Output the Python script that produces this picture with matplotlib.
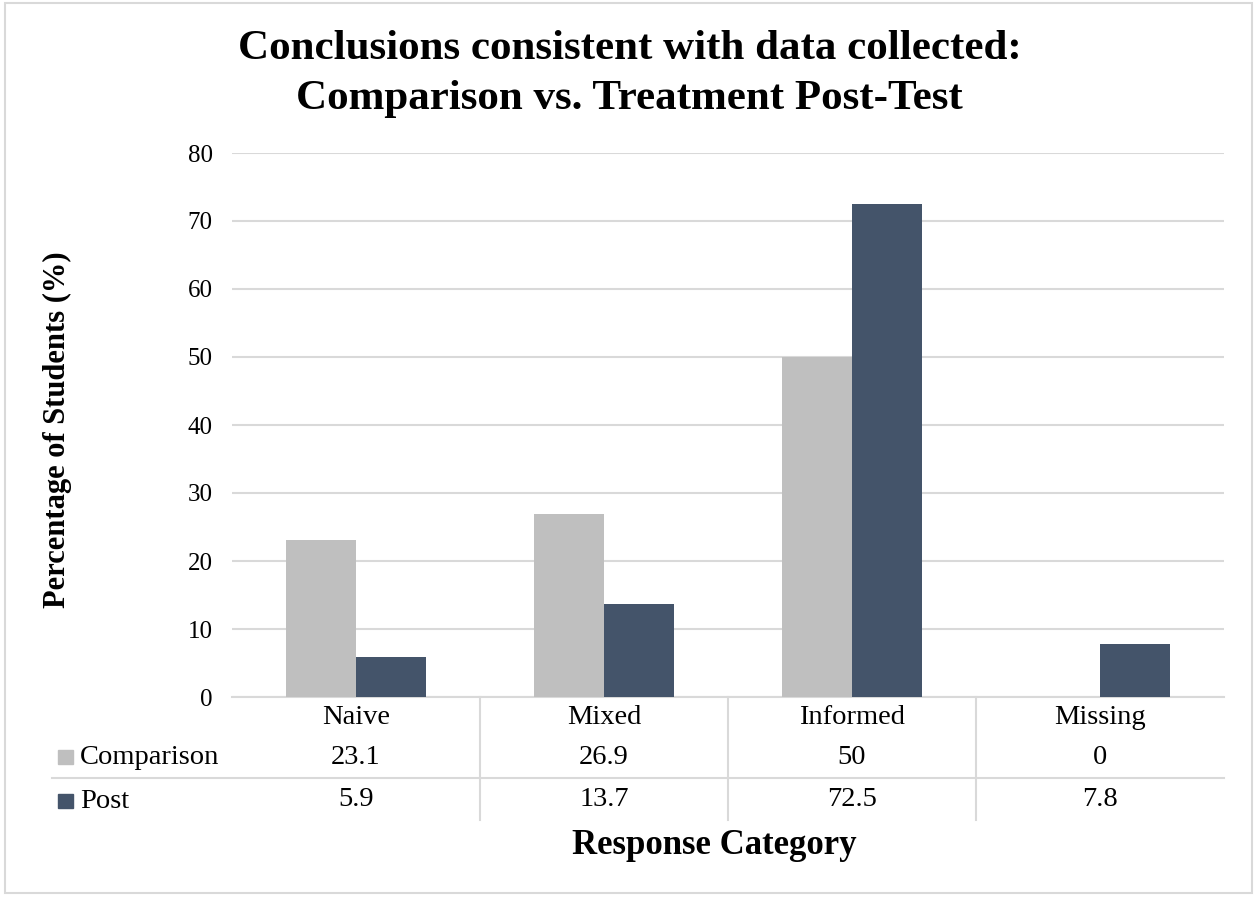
import matplotlib
matplotlib.use("Agg")
import matplotlib.pyplot as plt
from matplotlib.patches import Rectangle
from matplotlib.lines import Line2D
import numpy as np

categories = ["Naive", "Mixed", "Informed", "Missing"]
comparison = [23.1, 26.9, 50, 0]
post = [5.9, 13.7, 72.5, 7.8]
comparison_labels = ["23.1", "26.9", "50", "0"]
post_labels = ["5.9", "13.7", "72.5", "7.8"]
yticks = [0, 10, 20, 30, 40, 50, 60, 70, 80]

W, H = 1259, 898
plt.rcParams['font.family'] = ['Liberation Serif', 'DejaVu Serif']
fig = plt.figure(figsize=(W / 100, H / 100), dpi=100)

def fx(px):
    return px / W

def fy(py):
    return 1 - py / H

c_light = "#BFBFBF"
c_dark = "#44546A"
grid_c = "#D9D9D9"

x0, x1 = 232, 1224
y0, y80 = 697, 153
ax = fig.add_axes([fx(x0), fy(y0), fx(x1) - fx(x0), fy(y80) - fy(y0)])
x = np.arange(len(categories))
bw = 0.283
ax.bar(x - bw / 2, comparison, bw, color=c_light, zorder=3)
ax.bar(x + bw / 2, post, bw, color=c_dark, zorder=3)
ax.set_xlim(-0.5, len(categories) - 0.5)
ax.set_ylim(0, 80)
ax.set_yticks(yticks)
ax.set_yticklabels([str(t) for t in yticks], fontsize=18)
ax.tick_params(axis='y', length=0, pad=14)
ax.set_xticks([])
ax.yaxis.grid(True, color=grid_c, linewidth=1.5, zorder=0)
for s in ["top", "right", "left"]:
    ax.spines[s].set_visible(False)
ax.spines["bottom"].set_color(grid_c)
ax.spines["bottom"].set_linewidth(1.5)

# Data table
tr = ax.get_xaxis_transform()
axh = y0 - y80
def ay(py):
    return (y0 - py) / axh

fs_tab = 20.5
row_y = [718, 758, 800]
for i, c in enumerate(categories):
    ax.text(i, ay(row_y[0]), c, transform=tr, ha='center', va='center', fontsize=fs_tab, clip_on=False)
    ax.text(i, ay(row_y[1]), comparison_labels[i], transform=tr, ha='center', va='center', fontsize=fs_tab, clip_on=False)
    ax.text(i, ay(row_y[2]), post_labels[i], transform=tr, ha='center', va='center', fontsize=fs_tab, clip_on=False)
for b in [0.5, 1.5, 2.5]:
    ax.add_line(Line2D([b, b], [0, ay(820)], transform=tr, color=grid_c, linewidth=1.5, clip_on=False))
fig.add_artist(Line2D([fx(52), fx(x1)], [fy(778), fy(778)], color=grid_c, linewidth=1.5))

# legend keys in table
for py, col, lab in [(757, c_light, "Comparison"), (801, c_dark, "Post")]:
    fig.add_artist(Rectangle((fx(58), fy(py + 7)), fx(15), fy(0) - fy(14), color=col))
    fig.text(fx(80), fy(py + 1), lab, ha='left', va='center', fontsize=fs_tab)

fig.text(0.5, fy(74), "Conclusions consistent with data collected:\nComparison vs. Treatment Post-Test",
         ha='center', va='center', fontsize=31, fontweight='bold', linespacing=1.38)
fig.text(fx(57), fy(430), "Percentage of Students (%)", rotation=90, ha='center', va='center',
         fontsize=22, fontweight='bold')
fig.text(fx(714), fy(845), "Response Category", ha='center', va='center', fontsize=25, fontweight='bold')

fig.add_artist(Rectangle((fx(5), fy(893)), fx(1252) - fx(5), fy(3) - fy(893), fill=False,
                         edgecolor=grid_c, linewidth=1.5))

fig.savefig("out.png", dpi=100)
